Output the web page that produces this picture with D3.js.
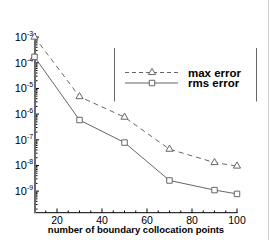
<!DOCTYPE html>
<html>
<head>
<meta charset="utf-8">
<script src="https://cdn.jsdelivr.net/npm/d3@7"></script>
<style>
  body { margin: 0; background: #fff; }
  svg { display: block; font-family: "Liberation Sans", Arial, sans-serif; }
</style>
</head>
<body>
<div id="chart"></div>
<script>
// boundary collocation points
var points = [10, 30, 50, 70, 90, 100];
// errors
var maxError = [1.0e-3, 4.8e-6, 7.6e-7, 4.3e-8, 1.3e-8, 9.5e-9];
var rmsError = [1.7e-4, 5.9e-7, 7.8e-8, 2.6e-9, 1.1e-9, 7.8e-10];
var xTicks = [20, 40, 60, 80, 100];
var yExponents = [-3, -4, -5, -6, -7, -8, -9];
var seriesNames = ["max error", "rms error"];

var width = 270, height = 240;
var svg = d3.select("#chart").append("svg")
    .attr("width", width)
    .attr("height", height);

var x = d3.scaleLinear().domain([10, 100]).range([34.5, 237]);
var y = d3.scaleLog().domain([Math.pow(10, -9.84), Math.pow(10, -2.84)]).range([212.7, 33]);

// right border line
svg.append("line")
    .attr("x1", 268.5).attr("x2", 268.5)
    .attr("y1", 0).attr("y2", height)
    .attr("stroke", "#d0d0d0");

// x axis, ticks pointing up
var xMinor = d3.range(15, 101, 5);
svg.selectAll(".xminor").data(xMinor).enter().append("line")
    .attr("x1", function (d) { return x(d); })
    .attr("x2", function (d) { return x(d); })
    .attr("y1", 212.7)
    .attr("y2", function (d) { return d % 20 === 0 ? 208.5 : 210.5; })
    .attr("stroke", "#000");
svg.append("line")
    .attr("x1", 34).attr("x2", 237.5)
    .attr("y1", 212.7).attr("y2", 212.7)
    .attr("stroke", "#000");
svg.selectAll(".xlabel").data(xTicks).enter().append("text")
    .attr("x", function (d) { return x(d); })
    .attr("y", 223.5)
    .attr("text-anchor", "middle")
    .attr("font-size", 10.5)
    .text(function (d) { return d; });
svg.append("text")
    .attr("x", 136)
    .attr("y", 233)
    .attr("text-anchor", "middle")
    .attr("font-size", 9.5)
    .attr("font-weight", "bold")
    .text("number of boundary collocation points");

// y axis with log minor ticks
var yMinor = [];
for (var e = -10; e <= -3; e++) {
    for (var m = 2; m <= 9; m++) {
        var v = m * Math.pow(10, e);
        if (y(v) <= 212 && y(v) >= 33) yMinor.push(v);
    }
}
svg.selectAll(".yminor").data(yMinor).enter().append("line")
    .attr("x1", 35).attr("x2", 37.5)
    .attr("y1", function (d) { return y(d); })
    .attr("y2", function (d) { return y(d); })
    .attr("stroke", "#000");
svg.selectAll(".ymajor").data(yExponents).enter().append("line")
    .attr("x1", 34).attr("x2", 39)
    .attr("y1", function (d) { return y(Math.pow(10, d)); })
    .attr("y2", function (d) { return y(Math.pow(10, d)); })
    .attr("stroke", "#000");
svg.append("line")
    .attr("x1", 35).attr("x2", 35)
    .attr("y1", 33).attr("y2", 213)
    .attr("stroke", "#6a6a6a")
    .attr("stroke-width", 2);

var ylab = svg.selectAll(".ylabel").data(yExponents).enter().append("g");
ylab.append("text")
    .attr("x", 27)
    .attr("y", function (d) { return y(Math.pow(10, d)) + 4; })
    .attr("text-anchor", "end")
    .attr("font-size", 11)
    .text("10");
ylab.append("text")
    .attr("x", 27)
    .attr("y", function (d) { return y(Math.pow(10, d)) - 1; })
    .attr("font-size", 7)
    .text(function (d) { return "-" + Math.abs(d); });

// series
var line = d3.line()
    .x(function (d) { return x(d[0]); })
    .y(function (d) { return y(d[1]); });
var maxData = d3.zip(points, maxError);
var rmsData = d3.zip(points, rmsError);
var lineColor = "#666";

svg.append("path").datum(maxData)
    .attr("d", line)
    .attr("fill", "none")
    .attr("stroke", lineColor)
    .attr("stroke-dasharray", "5,4");
svg.append("path").datum(rmsData)
    .attr("d", line)
    .attr("fill", "none")
    .attr("stroke", lineColor);

var tri = d3.symbol().type(d3.symbolTriangle).size(22);
var sq = d3.symbol().type(d3.symbolSquare).size(30);

svg.selectAll(".tri").data(maxData).enter().append("path")
    .attr("d", tri)
    .attr("transform", function (d) { return "translate(" + x(d[0]) + "," + y(d[1]) + ")"; })
    .attr("fill", "#fff")
    .attr("stroke", lineColor);
svg.selectAll(".sq").data(rmsData).enter().append("path")
    .attr("d", sq)
    .attr("transform", function (d) { return "translate(" + x(d[0]) + "," + y(d[1]) + ")"; })
    .attr("fill", "#fff")
    .attr("stroke", lineColor);

// legend
var legend = svg.append("g");
legend.append("line")
    .attr("x1", 114.5).attr("x2", 114.5).attr("y1", 48).attr("y2", 101.5)
    .attr("stroke", "#666");
legend.append("line")
    .attr("x1", 256.5).attr("x2", 256.5).attr("y1", 48).attr("y2", 101.5)
    .attr("stroke", "#666");

var legendY = [72.5, 83];
legend.append("line")
    .attr("x1", 125).attr("x2", 178).attr("y1", legendY[0]).attr("y2", legendY[0])
    .attr("stroke", lineColor).attr("stroke-dasharray", "4,3");
legend.append("line")
    .attr("x1", 125).attr("x2", 178).attr("y1", legendY[1]).attr("y2", legendY[1])
    .attr("stroke", lineColor);
legend.append("path").attr("d", tri)
    .attr("transform", "translate(152," + legendY[0] + ")")
    .attr("fill", "#fff").attr("stroke", lineColor);
legend.append("path").attr("d", sq)
    .attr("transform", "translate(152," + legendY[1] + ")")
    .attr("fill", "#fff").attr("stroke", lineColor);
legend.selectAll(".ltext").data(seriesNames).enter().append("text")
    .attr("x", 188)
    .attr("y", function (d, i) { return legendY[i] + 4; })
    .attr("font-size", 11.5)
    .attr("font-weight", "bold")
    .text(function (d) { return d; });
</script>
</body>
</html>
